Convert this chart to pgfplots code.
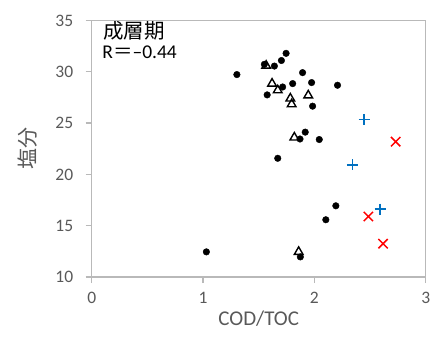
\documentclass[border=0pt]{standalone}
\usepackage{pgfplots}
\pgfplotsset{compat=1.18}
\usepackage{fontspec}
\setmainfont{Carlito}
\newfontfamily\jp{Noto Sans CJK JP}
\definecolor{axgray}{RGB}{185,185,185}
\definecolor{txtgray}{RGB}{89,89,89}
\definecolor{pblue}{RGB}{0,112,192}
\definecolor{pred}{RGB}{255,0,0}
\begin{document}
\begin{tikzpicture}[x=1pt,y=1pt]
\begin{axis}[
  at={(0,0)}, anchor=south west,
  scale only axis, width=334pt, height=256.5pt,
  xmin=0, xmax=3, ymin=10, ymax=35,
  xtick={0,1,2,3}, ytick={10,15,20,25,30,35},
  axis line style={draw=none},
  tick style={axgray, line width=1.3pt},
  tick align=outside, major tick length=6pt,
  xtick pos=bottom, ytick pos=left,
  tick label style={font=\fontsize{17.5}{19}\selectfont, text=txtgray},
  /pgf/number format/assume math mode=true,
  xticklabel style={yshift=-6pt},
  yticklabel style={xshift=-9pt},
  xlabel={COD/TOC},
  ylabel={\jp 塩分},
  xlabel style={font=\fontsize{21}{23}\selectfont, text=txtgray, yshift=0pt},
  ylabel style={font=\fontsize{21}{23}\selectfont, text=txtgray, yshift=11pt},
  clip=false,
]
% triangles
\addplot[only marks, mark=triangle, mark size=5pt, mark options={draw=black, fill=white, line width=1.4pt}] coordinates {
(1.567,30.6) (1.62,28.85) (1.671,28.2) (1.784,27.4) (1.796,26.84) (1.945,27.7) (1.82,23.6) (1.859,12.45)
};
% dots
\addplot[only marks, mark=*, mark size=3.3pt, mark options={draw=black, fill=black}] coordinates {
(1.746,31.8) (1.704,31.1) (1.641,30.56) (1.551,30.73) (1.304,29.73) (1.894,29.92)
(1.715,28.52) (1.805,28.85) (1.975,28.95) (2.208,28.69) (1.576,27.75) (1.984,26.65)
(1.871,23.45) (1.918,24.12) (2.044,23.4) (1.671,21.57) (2.193,16.94) (2.103,15.58)
(1.03,12.45) (1.874,11.96)
};
% blue plus
\addplot[only marks, mark=+, mark size=5.5pt, mark options={draw=pblue, line width=1.5pt}] coordinates {
(2.447,25.36) (2.342,20.92) (2.59,16.62)
};
% red x
\addplot[only marks, mark=x, mark size=6.6pt, mark options={draw=pred, line width=1.5pt}] coordinates {
(2.73,23.19) (2.485,15.9) (2.617,13.25)
};
\node[anchor=base west, inner sep=0pt, text=black, font=\jp\fontsize{20.5}{22}\selectfont] at (axis cs:0.1,33.25) {成層期};
\node[anchor=base west, inner sep=0pt, text=black, font=\fontsize{19.5}{21}\selectfont] at (axis cs:0.095,31.3) {R{\jp ＝}–0.44};
\end{axis}
\draw[axgray, line width=1.3pt] (0,0) rectangle (334,256.5);
\pgfresetboundingbox
\useasboundingbox (-91.7pt,-68.5pt) rectangle (338.3pt,277pt);
\end{tikzpicture}
\end{document}
